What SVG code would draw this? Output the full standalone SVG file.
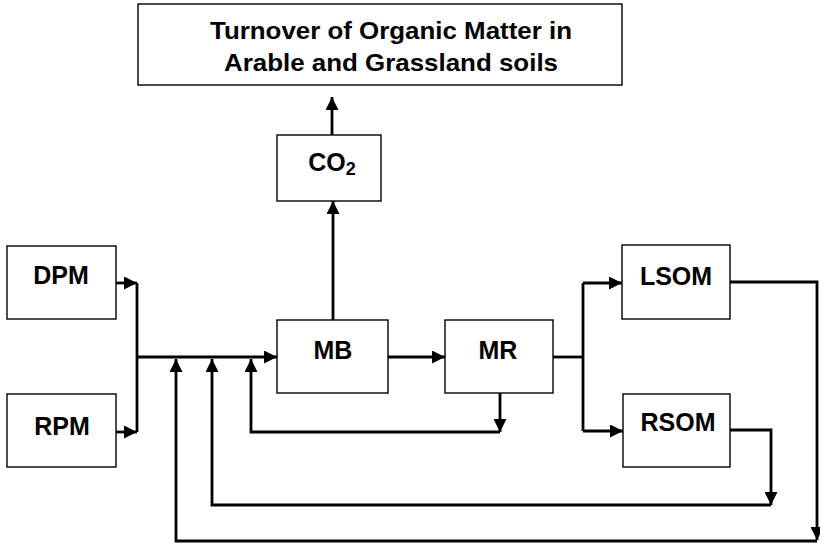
<svg xmlns="http://www.w3.org/2000/svg" width="820" height="544" viewBox="0 0 820 544">
<style>
.box{fill:#fff;stroke:#000;stroke-width:1.4}
.lbl{font-family:"Liberation Sans",Arial,sans-serif;font-weight:bold;font-size:25px;fill:#000;text-anchor:middle}
.ttl{font-family:"Liberation Sans",Arial,sans-serif;font-weight:bold;font-size:24px;fill:#000}
.c{fill:none;stroke:#000;stroke-width:2.8;stroke-linejoin:miter}
.a{marker-end:url(#ah)}
</style>
<defs>
<marker id="ah" viewBox="0 0 12 12" refX="12" refY="6" markerWidth="14" markerHeight="13" markerUnits="userSpaceOnUse" orient="auto">
<path d="M0,0 L12,6 L0,12 z" fill="#000"/>
</marker>
</defs>
<rect width="820" height="544" fill="#fff"/>
<g id="title">
<rect class="box" x="138" y="4" width="484" height="81"/>
<text class="ttl" x="210" y="39" textLength="362" lengthAdjust="spacingAndGlyphs">Turnover of Organic Matter in</text>
<text class="ttl" x="224" y="71" textLength="334" lengthAdjust="spacingAndGlyphs">Arable and Grassland soils</text>
</g>
<g id="co2">
<rect class="box" x="277" y="135" width="104" height="66"/>
<text class="lbl" x="332" y="171">CO<tspan font-size="18" dy="4">2</tspan></text>
</g>
<g id="dpm">
<rect class="box" x="7" y="246" width="109" height="73"/>
<text class="lbl" x="61" y="284">DPM</text>
</g>
<g id="rpm">
<rect class="box" x="7" y="394" width="109" height="73"/>
<text class="lbl" x="62" y="435">RPM</text>
</g>
<g id="mb">
<rect class="box" x="277" y="320" width="111" height="73"/>
<text class="lbl" x="333" y="359">MB</text>
</g>
<g id="mr">
<rect class="box" x="445" y="320" width="108" height="73"/>
<text class="lbl" x="498" y="359">MR</text>
</g>
<g id="lsom">
<rect class="box" x="622" y="245" width="108" height="74"/>
<text class="lbl" x="676" y="285">LSOM</text>
</g>
<g id="rsom">
<rect class="box" x="623" y="394" width="107" height="73"/>
<text class="lbl" x="678" y="431">RSOM</text>
</g>
<g id="connectors">
<path class="c a" d="M332,135 L332,97"/>
<path class="c a" d="M333,320 L333,201"/>
<path class="c a" d="M116,283 L137,283"/>
<path class="c a" d="M116,432 L137,432"/>
<path class="c" d="M137,283 L137,432"/>
<path class="c a" d="M137,357 L277,357"/>
<path class="c a" d="M388,357 L445,357"/>
<path class="c a" d="M500,393 L500,432"/>
<path class="c a" d="M500,432 L251,432 L251,359"/>
<path class="c" d="M553,357 L583,357"/>
<path class="c" d="M583,283 L583,431"/>
<path class="c a" d="M583,283 L622,283"/>
<path class="c a" d="M583,431 L623,431"/>
<path class="c a" d="M730,282 L817,282 L817,540"/>
<path class="c a" d="M817,541 L176,541 L176,359"/>
<path class="c a" d="M730,430 L771,430 L771,505"/>
<path class="c a" d="M771,505 L212,505 L212,359"/>
</g>
</svg>
